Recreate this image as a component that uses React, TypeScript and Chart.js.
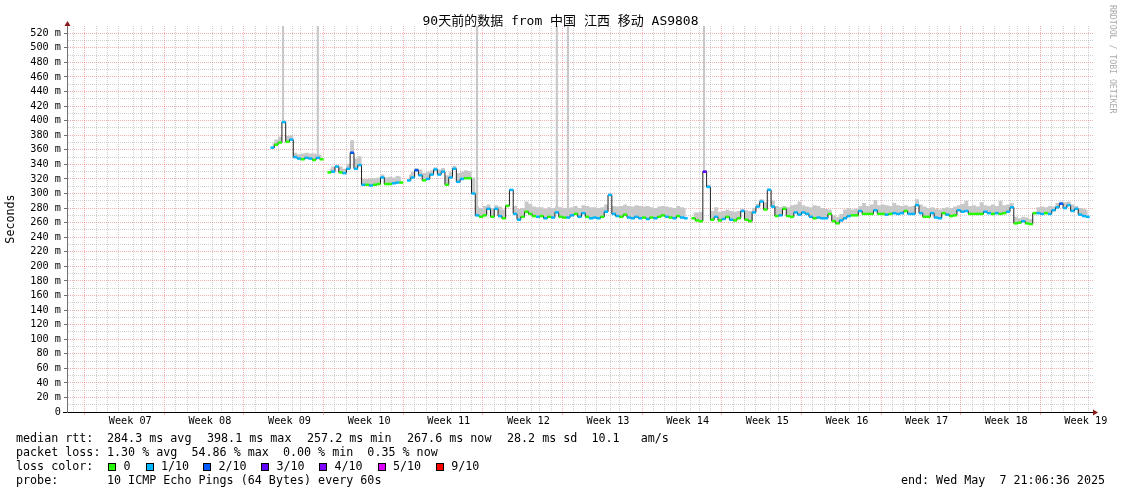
import React, { useEffect, useRef } from 'react';
import { Chart, registerables } from 'chart.js';

Chart.register(...registerables);

// ---------- texts ----------
const TITLE = '90天前的数据 from 中国 江西 移动 AS9808';
const Y_UNIT = 'Seconds';
const WATERMARK = 'RRDTOOL / TOBI OETIKER';
const WEEK_LABELS = ['Week 07', 'Week 08', 'Week 09', 'Week 10', 'Week 11', 'Week 12', 'Week 13', 'Week 14', 'Week 15', 'Week 16', 'Week 17', 'Week 18', 'Week 19'];
const RTT_TITLE = 'median rtt:';
const RTT_STATS = ['284.3 ms avg', '398.1 ms max', '257.2 ms min', '267.6 ms now', '28.2 ms sd  10.1   am/s'];
const LOSS_TITLE = 'packet loss:';
const LOSS_STATS = '1.30 % avg  54.86 % max  0.00 % min  0.35 % now';
const COLOR_TITLE = 'loss color:';
const LOSS_LABELS = ['0', '1/10', '2/10', '3/10', '4/10', '5/10', '9/10'];
const LOSS_COLORS = ['#26ff00', '#00b8ff', '#0059ff', '#5e00ff', '#7e00ff', '#dd00ff', '#ff0000'];
const PROBE_TITLE = 'probe:';
const PROBE_TEXT = '10 ICMP Echo Pings (64 Bytes) every 60s';
const END_TEXT = 'end: Wed May  7 21:06:36 2025';

// ---------- axes (x in days since Monday of Week 07, y in ms) ----------
const X_MIN = -2.057;
const X_MAX = 88.13;
const Y_MIN = 0;
const Y_MAX = 530;
const STEP = 1 / 3; // one consolidated row = 8 hours

// ---------- data (median rtt ms, smoke top ms, loss tenths) ----------
const SEG_A_START = 16.0;
const SEG_A_MEDIAN = [363, 367, 370, 398, 371, 374, 350, 348, 347, 349, 348, 346, 349, 347];
const SEG_A_SMOKE = [369, 374, 378, 400, 379, 380, 356, 354, 355, 356, 355, 355, 354, 353];
const SEG_A_LOSS = [1, 0, 0, 1, 0, 1, 1, 1, 0, 1, 1, 0, 1, 0];

const SEG_B_START = 21.0;
const SEG_B_MEDIAN = [329, 330, 337, 329, 328, 334, 356, 334, 339, 312, 312, 311, 312, 313, 322, 313, 313, 314, 315, 315];
const SEG_B_SMOKE = [334, 337, 339, 337, 334, 341, 373, 348, 351, 320, 320, 321, 321, 322, 326, 322, 323, 322, 324, 323];
const SEG_B_LOSS = [0, 1, 1, 0, 1, 1, 2, 1, 1, 1, 0, 1, 0, 0, 1, 0, 0, 1, 1, 0];

const SEG_C_START = 28.0;
const SEG_C_MEDIAN = [
  318, 322, 332, 325, 318, 320, 326, 333, 326, 330, 312, 322, 334, 316, 320, 321, 321, 300,
  270, 268, 270, 279, 268, 279, 269, 266, 283, 305, 272, 264, 268, 275, 272, 269, 268, 269, 266, 268, 267, 274, 268, 267, 267, 270, 272, 268, 273, 268, 266, 267, 266,
  268, 275, 298, 272, 269, 268, 271, 267, 266, 268, 266, 267, 265, 267, 266, 268, 270, 268, 267, 266, 269, 267, 266,
];
const SEG_C_SMOKE = [
  326, 330, 335, 333, 328, 330, 332, 336, 333, 335, 325, 330, 338, 328, 330, 332, 331, 322,
  282, 280, 283, 285, 280, 284, 282, 278, 285, 306, 283, 279, 280, 289, 286, 282, 281, 281, 279, 281, 280, 282, 281, 280, 280, 281, 283, 280, 284, 283, 281, 281, 280,
  281, 285, 300, 283, 282, 283, 285, 283, 282, 284, 283, 282, 283, 281, 280, 282, 283, 282, 281, 280, 283, 281, 280,
];
const SEG_C_LOSS = [
  1, 1, 2, 1, 0, 1, 1, 1, 1, 1, 0, 1, 1, 1, 1, 0, 0, 1,
  1, 0, 0, 1, 0, 1, 1, 0, 0, 1, 1, 1, 0, 0, 0, 0, 1, 0, 1, 0, 1, 1, 0, 0, 1, 1, 0, 1, 1, 0, 1, 1, 1,
  0, 1, 1, 1, 1, 0, 0, 1, 1, 1, 1, 0, 1, 0, 1, 0, 0, 1, 0, 1, 0, 1, 1,
];

const SEG_D_START = 53.0;
const SEG_D_MEDIAN = [
  266, 263, 262, 330, 309, 264, 268, 263, 265, 268,
  264, 263, 266, 276, 264, 262, 274, 282, 289, 278,
  305, 282, 269, 270, 279, 269, 268, 274, 271, 274,
  272, 268, 266, 267, 266, 266, 272, 262, 259, 263,
  266, 269, 270, 270, 276, 272, 272, 272, 277, 272,
  272, 271, 272, 273, 272, 273, 276, 272, 272, 284,
  273, 268, 268, 273, 267, 266, 273, 271, 269, 270,
  277, 275, 276, 272, 272, 272, 272, 275, 273, 272,
  273, 272, 273, 275, 281, 259, 260, 262, 259, 258,
  273, 273, 272, 273, 272, 277, 281, 286, 280, 284,
  276, 279, 271, 269, 268,
];
const SEG_D_SMOKE = [
  274, 274, 275, 332, 312, 276, 281, 275, 276, 278,
  276, 275, 276, 279, 277, 276, 280, 286, 292, 288,
  307, 290, 283, 281, 283, 281, 284, 285, 289, 284,
  282, 281, 284, 283, 280, 279, 278, 270, 268, 272,
  278, 280, 278, 279, 283, 287, 283, 285, 291, 284,
  285, 284, 283, 287, 284, 283, 284, 282, 283, 292,
  285, 282, 280, 281, 279, 278, 280, 281, 280, 282,
  284, 286, 290, 283, 284, 282, 288, 284, 283, 285,
  283, 290, 284, 285, 287, 268, 266, 268, 267, 265,
  275, 281, 282, 281, 283, 282, 287, 289, 288, 289,
  285, 283, 280, 279, 277,
];
const SEG_D_LOSS = [
  0, 0, 0, 3, 1, 0, 1, 0, 1, 0,
  1, 0, 0, 1, 0, 0, 1, 1, 1, 0,
  1, 1, 0, 1, 0, 0, 0, 1, 1, 1,
  1, 1, 0, 1, 1, 1, 0, 0, 0, 1,
  1, 1, 0, 0, 1, 0, 0, 0, 1, 0,
  0, 1, 0, 1, 1, 1, 0, 1, 1, 1,
  1, 0, 0, 1, 1, 1, 0, 1, 0, 0,
  1, 1, 1, 0, 0, 0, 0, 1, 1, 0,
  1, 0, 0, 1, 1, 0, 0, 1, 0, 0,
  0, 1, 1, 0, 1, 1, 1, 2, 1, 1,
  1, 1, 1, 1, 1,
];

// single pings far above the chart top (smoke reaching beyond 530 ms)
const SPIKE_DAYS = [16.93, 19.99, 33.98, 41.0, 41.98, 53.94];
const SPIKE_LOW = [398, 353, 280, 280, 280, 330];
const SPIKE_HIGH = [540, 540, 540, 540, 540, 540];

const MONO = '"DejaVu Sans Mono", "Noto Sans CJK SC", monospace';
const RED_GRID = 'rgba(235, 100, 100, 0.5)';
const GREY_GRID = 'rgba(150, 150, 150, 0.45)';

function buildPoints() {
  const segs = [
    { start: SEG_A_START, median: SEG_A_MEDIAN, smoke: SEG_A_SMOKE, loss: SEG_A_LOSS },
    { start: SEG_B_START, median: SEG_B_MEDIAN, smoke: SEG_B_SMOKE, loss: SEG_B_LOSS },
    { start: SEG_C_START, median: SEG_C_MEDIAN, smoke: SEG_C_SMOKE, loss: SEG_C_LOSS },
    { start: SEG_D_START, median: SEG_D_MEDIAN, smoke: SEG_D_SMOKE, loss: SEG_D_LOSS },
  ];
  const median: any[] = [];
  const smoke: any[] = [];
  segs.forEach((seg, si) => {
    if (si > 0) {
      median.push({ x: seg.start - STEP / 2, y: null, l: 0 });
      smoke.push({ x: seg.start - STEP / 2, y: null });
    }
    seg.median.forEach((m, i) => {
      const x = seg.start + i * STEP;
      median.push({ x, y: m, l: seg.loss[i] });
      smoke.push({ x, y: seg.smoke[i] });
    });
  });
  return { median, smoke };
}

const overlayPlugin = {
  id: 'smokepingOverlay',
  afterDraw(chart: any) {
    const ctx = chart.ctx as CanvasRenderingContext2D;
    const area = chart.chartArea;
    ctx.save();
    // title
    ctx.fillStyle = '#000';
    ctx.font = `13px ${MONO}`;
    ctx.textAlign = 'center';
    ctx.textBaseline = 'middle';
    ctx.fillText(TITLE, 560.5, 22);

    // watermark
    ctx.save();
    ctx.translate(1112, 5);
    ctx.rotate(Math.PI / 2);
    ctx.font = `8.2px ${MONO}`;
    ctx.fillStyle = '#aaaaaa';
    ctx.textAlign = 'left';
    ctx.textBaseline = 'middle';
    ctx.fillText(WATERMARK, 0, 0);
    ctx.restore();

    // axis arrows
    ctx.fillStyle = '#8b1a1a';
    ctx.beginPath();
    ctx.moveTo(area.left + 0.5 - 3, area.top);
    ctx.lineTo(area.left + 0.5 + 3, area.top);
    ctx.lineTo(area.left + 0.5, area.top - 5);
    ctx.closePath();
    ctx.fill();
    ctx.beginPath();
    ctx.moveTo(area.right, area.bottom + 0.5 - 3);
    ctx.lineTo(area.right, area.bottom + 0.5 + 3);
    ctx.lineTo(area.right + 5, area.bottom + 0.5);
    ctx.closePath();
    ctx.fill();
    ctx.strokeStyle = '#000';
    ctx.lineWidth = 1;
    ctx.beginPath();
    ctx.moveTo(area.left - 4, area.bottom + 0.5);
    ctx.lineTo(area.left, area.bottom + 0.5);
    ctx.stroke();

    // legend
    ctx.fillStyle = '#000';
    ctx.font = `11.7px ${MONO}`;
    ctx.textAlign = 'left';
    ctx.textBaseline = 'middle';
    ctx.fillText(RTT_TITLE, 16, 439);
    RTT_STATS.forEach((s, i) => ctx.fillText(s, 107 + i * 100, 439));
    ctx.fillText(LOSS_TITLE, 16, 453);
    ctx.fillText(LOSS_STATS, 107, 453);
    ctx.fillText(COLOR_TITLE, 16, 467);
    const boxX = [108, 145.5, 203, 261, 319, 377.5, 435.7];
    LOSS_LABELS.forEach((lab, i) => {
      const bx = Math.round(boxX[i]);
      ctx.fillStyle = LOSS_COLORS[i];
      ctx.fillRect(bx, 463, 8, 8);
      ctx.strokeStyle = '#000';
      ctx.strokeRect(bx + 0.5, 463.5, 7, 7);
      ctx.fillStyle = '#000';
      ctx.fillText(lab, boxX[i] + 15.5, 467);
    });
    ctx.fillText(PROBE_TITLE, 16, 481);
    ctx.fillText(PROBE_TEXT, 107, 481);
    ctx.textAlign = 'right';
    ctx.fillText(END_TEXT, 1105, 481);
    ctx.restore();
  },
};

function isInt(v: number) {
  return Math.abs(v - Math.round(v)) < 1e-6;
}

export default function App() {
  const ref = useRef<HTMLCanvasElement>(null);

  useEffect(() => {
    document.body.style.margin = '0';
    const canvas = ref.current;
    if (!canvas) return;
    const { median, smoke } = buildPoints();
    const spikes = SPIKE_DAYS.map((d, i) => ({ x: d, y: [SPIKE_LOW[i], SPIKE_HIGH[i]] }));

    const xTicks: number[] = [];
    for (let d = Math.ceil(X_MIN); d <= Math.floor(X_MAX); d++) xTicks.push(d);
    WEEK_LABELS.forEach((_, k) => xTicks.push(3.5 + 7 * k));
    xTicks.sort((a, b) => a - b);
    const yTicks: number[] = [];
    for (let v = Y_MIN; v <= Y_MAX; v += 10) yTicks.push(v);

    const chart = new Chart(canvas, {
      type: 'line',
      data: {
        datasets: [
          {
            type: 'line',
            label: 'median (loss colour)',
            data: median,
            showLine: false,
            pointStyle: 'line',
            pointRadius: 1.9,
            pointBorderWidth: 2.5,
            pointBorderColor: (c: any) => LOSS_COLORS[c.raw && c.raw.l ? c.raw.l : 0],
            order: 1,
          } as any,
          {
            type: 'line',
            label: 'median rtt',
            data: median,
            borderColor: '#202020',
            borderWidth: 1,
            stepped: 'middle',
            pointRadius: 0,
            spanGaps: false,
            fill: false,
            order: 2,
          } as any,
          {
            type: 'line',
            label: 'smoke',
            data: smoke,
            borderWidth: 0,
            borderColor: 'rgba(0,0,0,0)',
            backgroundColor: '#c8c8c8',
            stepped: 'middle',
            pointRadius: 0,
            spanGaps: false,
            fill: 1,
            order: 3,
          } as any,
          {
            type: 'bar',
            label: 'smoke spikes',
            data: spikes,
            backgroundColor: '#c8c8c8',
            borderWidth: 0,
            barThickness: 1.5,
            order: 4,
          } as any,
        ],
      },
      options: {
        responsive: false,
        animation: false,
        events: [],
        layout: { padding: { top: 26, right: 28, left: 0, bottom: 0 } },
        plugins: {
          legend: { display: false },
          tooltip: { enabled: false },
          title: { display: false },
        },
        scales: {
          x: {
            type: 'linear',
            min: X_MIN,
            max: X_MAX,
            offset: false,
            afterBuildTicks: (s: any) => {
              s.ticks = xTicks.map((v) => ({ value: v }));
            },
            afterFit: (s: any) => {
              s.height = 82;
              s.paddingLeft = 0;
              s.paddingRight = 0;
            },
            ticks: {
              autoSkip: false,
              maxRotation: 0,
              minRotation: 0,
              padding: 0,
              color: '#000',
              font: { family: MONO, size: 10.2 },
              callback: (v: any) => {
                const n = Number(v);
                if (isInt(n)) return '';
                return WEEK_LABELS[Math.round((n - 3.5) / 7)] || '';
              },
            },
            grid: {
              lineWidth: 1,
              tickLength: 3,
              color: (c: any) => {
                const v = c.tick ? c.tick.value : 0;
                if (!isInt(v)) return 'rgba(0,0,0,0)';
                return Math.round(v) % 7 === 0 ? RED_GRID : GREY_GRID;
              },
              tickColor: (c: any) => {
                const v = c.tick ? c.tick.value : 0;
                if (!isInt(v)) return 'rgba(0,0,0,0)';
                return Math.round(v) % 7 === 0 ? RED_GRID : 'rgba(0,0,0,0)';
              },
            },
            border: { display: true, color: '#000', width: 1, dash: [1, 1] },
          } as any,
          y: {
            type: 'linear',
            min: Y_MIN,
            max: Y_MAX,
            afterBuildTicks: (s: any) => {
              s.ticks = yTicks.map((v) => ({ value: v }));
            },
            afterFit: (s: any) => {
              s.width = 67;
              s.paddingTop = 0;
              s.paddingBottom = 0;
            },
            ticks: {
              autoSkip: false,
              padding: 3,
              color: '#000',
              font: { family: MONO, size: 10.2 },
              callback: (v: any) => {
                const n = Number(v);
                if (n % 20 !== 0) return '';
                return n === 0 ? '0' : `${n} m`;
              },
            },
            grid: {
              lineWidth: 1,
              tickLength: 3,
              color: (c: any) => {
                const v = c.tick ? c.tick.value : 0;
                if (v >= Y_MAX) return 'rgba(0,0,0,0)';
                return v % 20 === 0 ? RED_GRID : GREY_GRID;
              },
              tickColor: (c: any) => {
                const v = c.tick ? c.tick.value : 0;
                if (v >= Y_MAX) return 'rgba(0,0,0,0)';
                return v % 20 === 0 ? '#707070' : 'rgba(0,0,0,0)';
              },
            },
            border: { display: true, color: '#707070', width: 1, dash: [1, 1] },
            title: {
              display: true,
              text: Y_UNIT,
              color: '#000',
              font: { family: MONO, size: 11.7 },
              padding: { top: 3.5, bottom: 0 },
            },
          } as any,
        },
      },
      plugins: [overlayPlugin],
    });
    return () => chart.destroy();
  }, []);

  return (
    <div style={{ width: 1121, height: 494, background: '#fff' }}>
      <canvas ref={ref} width={1121} height={494} style={{ display: 'block' }} />
    </div>
  );
}
